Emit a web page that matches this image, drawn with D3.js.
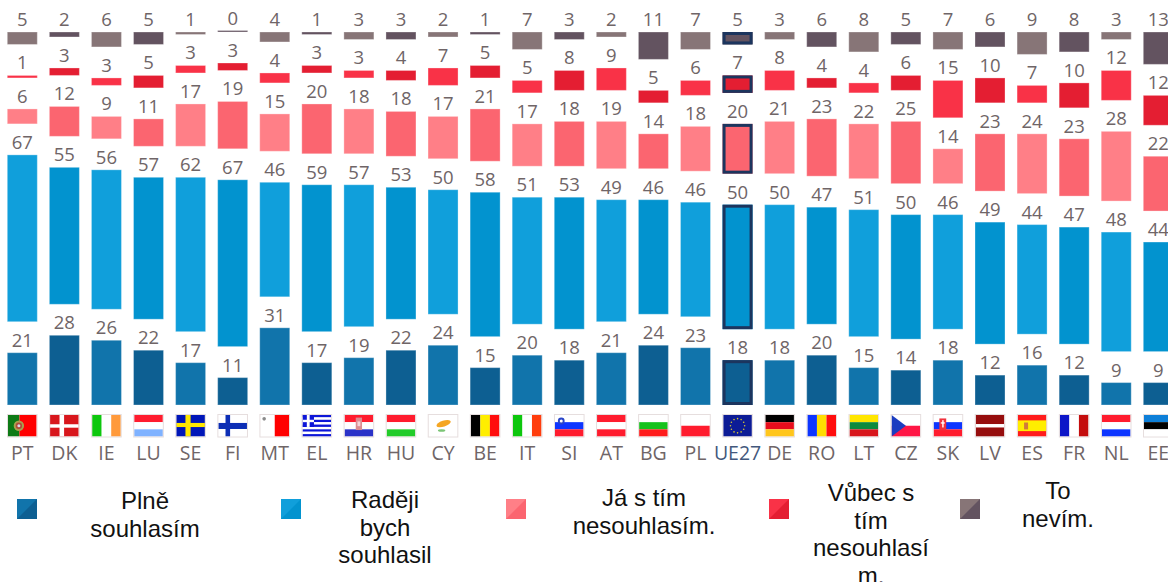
<!DOCTYPE html>
<html><head><meta charset="utf-8">
<script src="https://cdn.jsdelivr.net/npm/d3@7"></script>
<style>html,body{margin:0;padding:0;background:#fff;overflow:hidden}svg{display:block}</style>
</head><body><svg id="c" width="1168" height="582"><defs><filter id="soft" x="-5%" y="-5%" width="110%" height="110%"><feGaussianBlur stdDeviation="0.35"/></filter></defs></svg>
<script>
const countries=["PT","DK","IE","LU","SE","FI","MT","EL","HR","HU","CY","BE","IT","SI","AT","BG","PL","UE27","DE","RO","LT","CZ","SK","LV","ES","FR","NL","EE"];
const totallyAgree=[21,28,26,22,17,11,31,17,19,22,24,15,20,18,21,24,23,18,18,20,15,14,18,12,16,12,9,9];
const tendToAgree=[67,55,56,57,62,67,46,59,57,53,50,58,51,53,49,46,46,50,50,47,51,50,46,49,44,47,48,44];
const tendToDisagree=[6,12,9,11,17,19,15,20,18,18,17,21,17,18,19,14,18,20,21,23,22,25,14,23,24,23,28,22];
const totallyDisagree=[1,3,3,5,3,3,4,3,3,4,7,5,5,8,9,5,6,7,8,4,4,6,15,10,7,10,12,12];
const dontKnow=[5,2,6,5,1,0,4,1,3,3,2,1,7,3,2,11,7,5,3,6,8,5,7,6,9,8,3,13];
const seriesValues=[totallyAgree,tendToAgree,tendToDisagree,totallyDisagree,dontKnow];
const lightColors=["#1174ab","#109fdb","#ff7f87","#f93247","#877577"];
const darkColors=["#0d5f92","#0293cf","#fb6570","#e41e32","#635360"];
const legendLines=[["Plně","souhlasím"],["Raději","bych","souhlasil"],["Já s tím","nesouhlasím."],["Vůbec s","tím","nesouhlasí","m."],["To","nevím."]];
const legendSwatchX=[17,281,506,769,960];
const legendTextX=[145,385,644,871,1058];
const legendTextY=[509,508,506,501,499];

const svg=d3.select("#c");
const x=d3.scalePoint().domain(countries).range([22.3,1158.3]);
const barW=30, gap=31;
const y=d3.scaleLinear().domain([0,100]).range([0,249]);
const baseY=405;
const labelColor="#6f6567";
const font="'Open Sans','Noto Sans',sans-serif";

countries.forEach((c,i)=>{
  let cur=baseY;
  const g=svg.append("g");
  const hi=c==="UE27";
  seriesValues.forEach((vals,s)=>{
    const v=vals[i], h=Math.max(y(v),1.5);
    const top=cur-h;
    const fill=(i%2?darkColors:lightColors)[s];
    g.append("rect").attr("x",x(c)-barW/2).attr("y",top).attr("width",barW).attr("height",h)
      .attr("fill",fill).attr("stroke",hi?"none":"#fff").attr("stroke-opacity",0.3).attr("stroke-width",1);
    if(hi){
      g.append("rect").attr("x",x(c)-barW/2+1.5).attr("y",top+1.5).attr("width",barW-3).attr("height",Math.max(h-3,0.5))
       .attr("fill",fill).attr("stroke","#1c355e").attr("stroke-width",3);
    }
    g.append("text").attr("x",x(c)).attr("y",top-6).attr("text-anchor","middle")
      .attr("font-family",font).attr("font-size",18.5).attr("fill",labelColor).text(v);
    cur=top-gap;
  });
  svg.append("text").attr("x",x(c)).attr("y",460).attr("text-anchor","middle")
    .attr("font-family",font).attr("font-size",19.5)
    .attr("fill",hi?"#43587c":labelColor).text(c);
  drawFlag(c,x(c)-14.3,415,28.6,21.5);
});

function drawFlag(code,fx,fy,w,h){
  const g=svg.append("g").attr("transform",`translate(${fx},${fy})`).attr("filter","url(#soft)");
  const r=(a,b,c,d,col)=>g.append("rect").attr("x",a*w).attr("y",b*h).attr("width",c*w).attr("height",d*h).attr("fill",col);
  const hs=cols=>cols.forEach((col,i)=>r(0,i/cols.length,1,1/cols.length,col));
  const vs=cols=>cols.forEach((col,i)=>r(i/cols.length,0,1/cols.length,1,col));
  const circ=(a,b,rad,col)=>g.append("circle").attr("cx",a*w).attr("cy",b*h).attr("r",rad).attr("fill",col);
  switch(code){
    case"PT":r(0,0,.4,1,"#0a7a12");r(.4,0,.6,1,"#ff0000");circ(.38,.5,5.2,"#a8a050");circ(.38,.5,3.2,"#b04a3a");circ(.38,.5,1.5,"#d8d8e8");break;
    case"DK":r(0,0,1,1,"#d8141e");r(0,.43,1,.16,"#fff");r(.33,0,.16,1,"#fff");break;
    case"IE":vs(["#0fc70f","#ffffff","#ff9a3a"]);break;
    case"LU":hs(["#ff1a2d","#ffffff","#7fb2ff"]);break;
    case"SE":r(0,0,1,1,"#0019b8");r(0,.37,1,.19,"#ffe800");r(.32,0,.18,1,"#ffe800");break;
    case"FI":r(0,0,1,1,"#fff");r(0,.37,1,.28,"#0a2fb5");r(.25,0,.16,1,"#0a2fb5");break;
    case"MT":r(0,0,.5,1,"#fff");r(.5,0,.5,1,"#ff0000");circ(.13,.18,1.8,"#8a8a8a");break;
    case"EL":for(let k=0;k<9;k++)r(0,k/9,1,1/9,k%2?"#fff":"#0d14d8");r(0,0,.4,5/9,"#0d14d8");r(0,2/9,.4,1/9,"#fff");r(.15,0,.1,5/9,"#fff");break;
    case"HR":hs(["#ff1a2d","#ffffff","#2a33c8"]);r(.39,.12,.22,.58,"#dc8c92");r(.45,.3,.1,.22,"#f4d4d6");break;
    case"HU":hs(["#ff1a2d","#ffffff","#23cc2a"]);break;
    case"CY":r(0,0,1,1,"#fff");g.append("ellipse").attr("cx",.52*w).attr("cy",.4*h).attr("rx",.26*w).attr("ry",.14*h).attr("fill","#f5a623").attr("transform",`rotate(-18 ${.52*w} ${.4*h})`);g.append("ellipse").attr("cx",.45*w).attr("cy",.72*h).attr("rx",.13*w).attr("ry",.06*h).attr("fill","#7cc576");break;
    case"BE":vs(["#000000","#ffee00","#ff0f0f"]);break;
    case"IT":vs(["#0fc70f","#ffffff","#ff3d0d"]);break;
    case"SI":hs(["#ffffff","#0a34ff","#ff1a2d"]);circ(.22,.28,3.4,"#2a45c8");circ(.22,.28,1.5,"#fff");break;
    case"AT":hs(["#ff1a2d","#ffffff","#ff1a2d"]);break;
    case"BG":hs(["#ffffff","#14c21e","#ff1a1a"]);break;
    case"PL":hs(["#ffffff","#ff1a2d"]);break;
    case"UE27":{r(0,0,1,1,"#0b1a96");d3.range(12).forEach(k=>{const a=k*Math.PI/6;circ(.5+.3*Math.cos(a)*h/w*1.1,.5+.33*Math.sin(a),.8,"#d8c830");});break;}
    case"DE":hs(["#000000","#e8101c","#ffc61a"]);break;
    case"RO":vs(["#0a34ff","#ffdd00","#ff0f0f"]);break;
    case"LT":hs(["#ffe600","#0f8a3c","#d8141e"]);break;
    case"CZ":r(0,0,1,.5,"#fff");r(0,.5,1,.5,"#ff1744");g.append("path").attr("d",`M0,0L${w*.5},${h/2}L0,${h}Z`).attr("fill","#1b3cc0");break;
    case"SK":hs(["#ffffff","#0a34ff","#ff1a2d"]);r(.2,.16,.24,.56,"#f0303c");r(.3,.24,.05,.34,"#fff");r(.25,.34,.14,.06,"#fff");break;
    case"LV":r(0,0,1,1,"#960808");r(0,.42,1,.16,"#fff");break;
    case"ES":r(0,0,1,1,"#ff1a1a");r(0,.25,1,.5,"#ffee00");r(.22,.35,.14,.32,"#d07a3a");break;
    case"FR":vs(["#0a14c8","#ffffff","#c40808"]);break;
    case"NL":hs(["#ff1a2d","#ffffff","#0a34ff"]);break;
    case"EE":hs(["#0f7fd8","#000000","#ffffff"]);break;
  }
  g.append("rect").attr("x",-.5).attr("y",-.5).attr("width",w+1).attr("height",h+1).attr("fill","none").attr("stroke","#e6dede").attr("stroke-width",1);
}

legendLines.forEach((lines,s)=>{
  const sx=legendSwatchX[s], sw=20, sy=499;
  svg.append("rect").attr("x",sx).attr("y",sy).attr("width",sw).attr("height",sw).attr("fill",lightColors[s]);
  svg.append("path").attr("d",`M${sx+sw},${sy}L${sx+sw},${sy+sw}L${sx},${sy+sw}Z`).attr("fill",darkColors[s]);
  lines.forEach((t,k)=>{
    svg.append("text").attr("x",legendTextX[s]).attr("y",legendTextY[s]+k*27.7).attr("text-anchor","middle")
      .attr("font-family","'Liberation Sans',Arial,sans-serif").attr("font-size",24).attr("fill","#111").text(t);
  });
});
</script></body></html>
